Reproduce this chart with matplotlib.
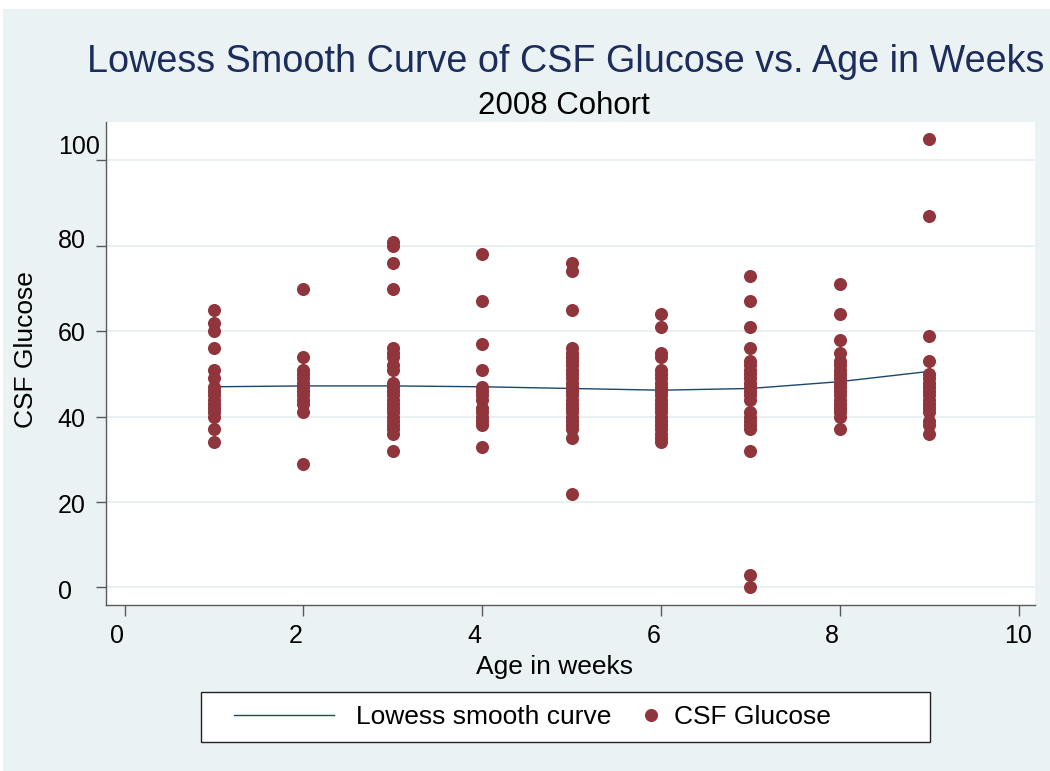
import numpy as np
import matplotlib
matplotlib.use("Agg")
import matplotlib.pyplot as plt
import matplotlib.transforms as mtrans
from matplotlib.patches import Rectangle
from matplotlib.legend_handler import HandlerLine2D

plt.rcParams['font.family'] = ['Liberation Sans', 'DejaVu Sans']

# ---------------- data ----------------
weeks = [1, 2, 3, 4, 5, 6, 7, 8, 9]
glucose_wk1 = [65, 62, 60, 56, 51, 49, 47, 46, 45, 44, 43, 42, 41, 40, 37, 34]
glucose_wk2 = [70, 54, 51, 50, 49, 48, 47, 46, 45, 44, 43, 41, 29]
glucose_wk3 = [81, 80, 76, 70, 56, 55, 54, 52, 51, 48, 47, 46, 45, 44, 43, 42, 41, 40, 39, 38, 37, 36, 32]
glucose_wk4 = [78, 67, 57, 51, 47, 46, 45, 44, 42, 41, 40, 39, 38, 33]
glucose_wk5 = [76, 74, 65, 56, 55, 54, 53, 52, 51, 50, 49, 48, 47, 46, 45, 44, 43, 42, 41, 40, 39, 38, 37, 35, 22]
glucose_wk6 = [64, 61, 55, 54, 51, 50, 49, 48, 47, 46, 45, 44, 43, 42, 41, 40, 39, 38, 37, 36, 35, 34]
glucose_wk7 = [73, 67, 61, 56, 53, 52, 51, 50, 49, 48, 47, 46, 45, 44, 41, 40, 39, 38, 37, 32, 3, 0]
glucose_wk8 = [71, 64, 58, 55, 53, 52, 51, 50, 49, 48, 47, 46, 45, 44, 43, 42, 41, 40, 37]
glucose_wk9 = [105, 87, 59, 53, 50, 49, 48, 47, 46, 45, 44, 43, 42, 41, 39, 38, 36]
lowess_glucose = [47.0, 47.2, 47.2, 47.0, 46.6, 46.2, 46.6, 48.2, 50.6]

xticks = [0, 2, 4, 6, 8, 10]
yticks = [0, 20, 40, 60, 80, 100]

title = "Lowess Smooth Curve of CSF Glucose vs. Age in Weeks"
subtitle = "2008 Cohort"
xlabel = "Age in weeks"
ylabel = "CSF Glucose"
legend_labels = ["Lowess smooth curve", "CSF Glucose"]

columns = [glucose_wk1, glucose_wk2, glucose_wk3, glucose_wk4, glucose_wk5,
           glucose_wk6, glucose_wk7, glucose_wk8, glucose_wk9]
age_all = np.concatenate([np.full(len(c), w, dtype=float) for w, c in zip(weeks, columns)])
glu_all = np.concatenate([np.asarray(c, dtype=float) for c in columns])

# ---------------- figure ----------------
W, H = 1050, 771
fig = plt.figure(figsize=(W / 100, H / 100), dpi=100)
fig.patch.set_facecolor('white')
fig.patches.append(Rectangle((3 / W, 0), 1 - 3 / W, (H - 9) / H, transform=fig.transFigure,
                             facecolor='#EAF2F3', edgecolor='none', zorder=-10))

ax = fig.add_axes([106 / W, (H - 605) / H, 929 / W, 483 / H])
ax.set_facecolor('white')

navy = '#1A476F'
maroon = '#90353B'
axcol = '#5A5A5A'

lw_line, = ax.plot(weeks, lowess_glucose, color=navy, lw=1.0, zorder=2)
pts, = ax.plot(age_all, glu_all, linestyle='none', marker='o', markersize=9.4,
               markeredgewidth=0, color=maroon, zorder=3)

ax.set_xlim(-0.208, 10.183)
ax.set_ylim(-4.1, 109.0)
ax.set_xticks(xticks)
ax.set_yticks(yticks)
ax.set_xticklabels([str(t) for t in xticks])
ax.set_yticklabels([str(t) for t in yticks])

for s in ['top', 'right']:
    ax.spines[s].set_visible(False)
for s in ['left', 'bottom']:
    ax.spines[s].set_color(axcol)
    ax.spines[s].set_linewidth(1.0)

ax.tick_params(axis='x', direction='out', length=7.9, width=1.0, color=axcol,
               labelsize=18, pad=6)
ax.tick_params(axis='y', direction='out', length=7.2, width=1.0, color=axcol,
               labelsize=18, pad=27.5)

ax.yaxis.grid(True, color='#E6EFF1', lw=1.3)
ax.xaxis.grid(False)
ax.set_axisbelow(True)

# Stata-like label placement
for lbl in ax.get_xticklabels():
    lbl.set_horizontalalignment('left')
    lbl.set_transform(lbl.get_transform() +
                      mtrans.ScaledTranslation(-14.5 / 100, 0, fig.dpi_scale_trans))
yoff = {0: -2.5, 20: -1, 40: -1, 60: -0.7, 80: 7, 100: 15.5}
for t, lbl in zip(yticks, ax.get_yticklabels()):
    lbl.set_horizontalalignment('left')
    lbl.set_transform(lbl.get_transform() +
                      mtrans.ScaledTranslation(0, yoff[t] / 100, fig.dpi_scale_trans))

ax.set_xlabel(xlabel, fontsize=19)
ax.xaxis.set_label_coords(0.4833, -0.1035)
ax.set_ylabel(ylabel, fontsize=19)
ax.yaxis.set_label_coords(-0.0727, 0.528)

fig.text(566 / W, (H - 71.7) / H, title, ha='center', va='baseline',
         fontsize=27.2, color='#1C2D5C')
fig.text(564 / W, (H - 114.3) / H, subtitle, ha='center', va='baseline',
         fontsize=22.5, color='black')

# legend
fig.patches.append(Rectangle((201 / W, 29 / H), 729 / W, 50 / H, transform=fig.transFigure,
                             facecolor='white', edgecolor='#222222', lw=1.0, zorder=1))


class MarkerAtEnd(HandlerLine2D):
    def get_xdata(self, legend, xdescent, ydescent, width, height, fontsize):
        m = -xdescent + width - 1.0
        return [m - 1.0, m + 1.0], [m]


leg = fig.legend([lw_line, pts], legend_labels, loc='center left',
                 bbox_to_anchor=(234 / W, (H - 717) / H), ncol=2, frameon=False,
                 fontsize=19, handlelength=3.79, handletextpad=0.834,
                 columnspacing=-2.243, borderpad=0, borderaxespad=0,
                 handler_map={pts: MarkerAtEnd(numpoints=1)})

fig.savefig('out.png', dpi=100, facecolor=fig.get_facecolor())
